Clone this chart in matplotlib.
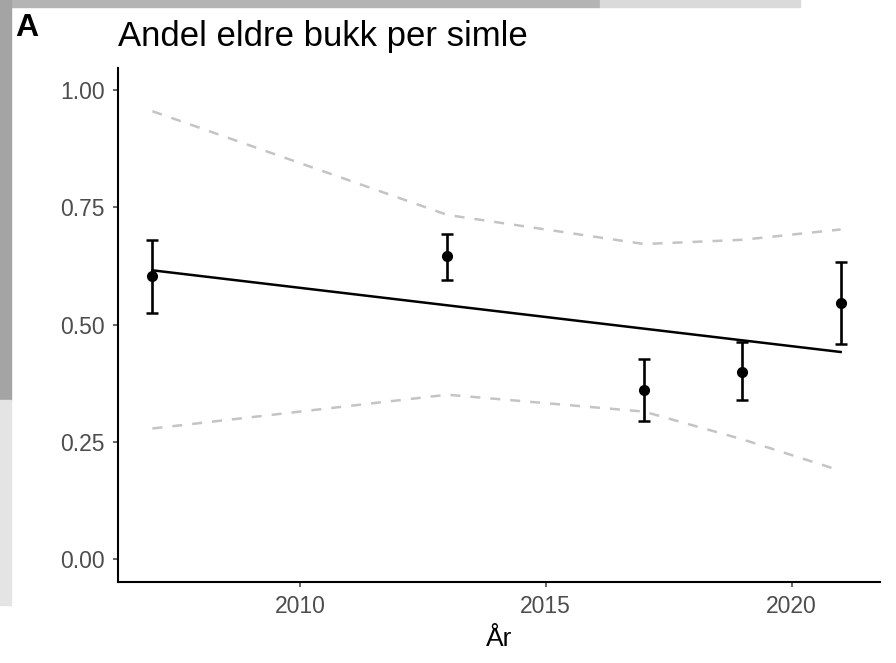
import matplotlib
matplotlib.use("Agg")
import matplotlib.pyplot as plt
import matplotlib.patches as mpatches

# data
years = [2007, 2013, 2017, 2019, 2021]
share = [0.603, 0.647, 0.360, 0.399, 0.547]
err_low = [0.524, 0.596, 0.296, 0.339, 0.460]
err_high = [0.680, 0.693, 0.428, 0.463, 0.634]
trend_years = [2007, 2021]
trend_vals = [0.616, 0.442]
pi_upper = [0.955, 0.734, 0.672, 0.681, 0.703]
pi_lower = [0.279, 0.351, 0.315, 0.256, 0.189]

TICK_GRAY = "#4D4D4D"
DASH_GRAY = "#C4C4C4"

plt.rcParams["font.family"] = ["Liberation Sans", "DejaVu Sans"]

fig = plt.figure(figsize=(8.96, 6.63), dpi=100)
fig.patch.set_facecolor("white")

# photo edges peeking out behind the panel (rough stand-in)
W, H = 896, 663
edges = [
    ((0, 7), 600, 7, "#B4B4B4"),
    ((600, 7), 200, 7, "#DADADA"),
    ((0, 400), 11, 400, "#A4A4A4"),
    ((0, 605), 11, 205, "#E4E4E4"),
]
for (x0, ytop), w, h, c in edges:
    fig.patches.append(mpatches.Rectangle((x0 / W, 1 - ytop / H), w / W, h / H,
                                          transform=fig.transFigure, color=c, zorder=0))

ax = fig.add_axes([118 / W, 1 - 582 / H, (880 - 118) / W, (582 - 68) / H])
ax.set_facecolor("white")

ax.plot(years, pi_upper, color=DASH_GRAY, lw=1.8, dashes=(4, 4))
ax.plot(years, pi_lower, color=DASH_GRAY, lw=1.8, dashes=(4, 4))
ax.plot(trend_years, trend_vals, color="black", lw=1.8)

yerr = [[s - lo for s, lo in zip(share, err_low)], [hi - s for s, hi in zip(share, err_high)]]
ax.errorbar(years, share, yerr=yerr, fmt="o", color="black", ms=7, elinewidth=1.9,
            capsize=4.5, capthick=1.8, zorder=4)

ax.set_xlim(2006.3, 2021.8)
ax.set_ylim(-0.048, 1.047)
ax.set_xticks([2010, 2015, 2020])
ax.set_yticks([0.0, 0.25, 0.5, 0.75, 1.0])
ax.set_yticklabels(["0.00", "0.25", "0.50", "0.75", "1.00"])

for side in ["top", "right"]:
    ax.spines[side].set_visible(False)
for side in ["left", "bottom"]:
    ax.spines[side].set_linewidth(1.5)
    ax.spines[side].set_color("black")
ax.tick_params(colors=TICK_GRAY, labelcolor=TICK_GRAY, labelsize=16.5, length=3.5, width=1.2)
ax.tick_params(axis="y", pad=6)
ax.tick_params(axis="x", pad=6)

ax.set_xlabel("År", fontsize=19, color="black", labelpad=6)
fig.text(118 / W, 1 - 46 / H, "Andel eldre bukk per simle", fontsize=25, color="black",
         ha="left", va="baseline")
fig.text(15 / W, 1 - 36 / H, "A", fontsize=23, fontweight="bold", color="black",
         ha="left", va="baseline")

fig.savefig("out.png", dpi=100, facecolor="white")
